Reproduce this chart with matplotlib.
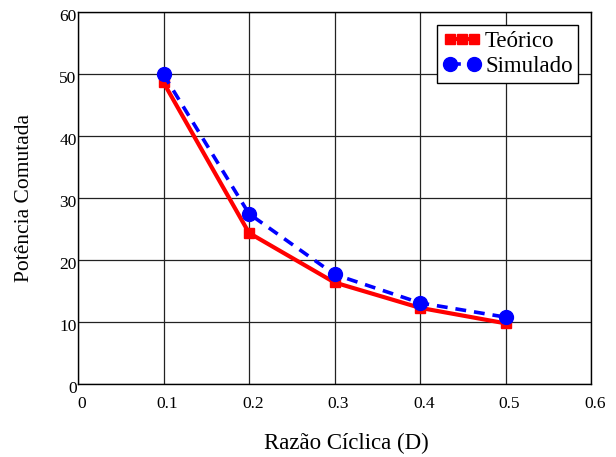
import numpy as np
import matplotlib
matplotlib.use('Agg')
import matplotlib.pyplot as plt
import matplotlib.transforms as mtransforms
from matplotlib.legend_handler import HandlerLine2D

plt.rcParams['font.family'] = ['Liberation Serif', 'DejaVu Serif']

# data
D = [0.1, 0.2, 0.3, 0.4, 0.5]
teorico = [48.7, 24.4, 16.4, 12.3, 9.8]
simulado = [50.0, 27.5, 17.7, 13.1, 10.8]
xticks = [0, 0.1, 0.2, 0.3, 0.4, 0.5, 0.6]
yticks = [0, 10, 20, 30, 40, 50, 60]

W, H = 616, 457
fig = plt.figure(figsize=(W / 100, H / 100), dpi=100)
ax = fig.add_axes([78 / W, (H - 384) / H, (591 - 78) / W, (384 - 12.5) / H])

l1, = ax.plot(D, teorico, color='#ff0000', lw=3, marker='s', ms=7,
              label='Teórico', zorder=3)
l2, = ax.plot(D, simulado, color='#0000ff', lw=2.6, ls=(0, (3, 2.2)), marker='o',
              ms=10, label='Simulado', zorder=4)

ax.set_xlim(0, 0.6)
ax.set_ylim(0, 60)
ax.set_xticks(xticks)
ax.set_yticks(yticks)
ax.set_xticklabels(['0', '0.1', '0.2', '0.3', '0.4', '0.5', '0.6'])
ax.tick_params(length=0, labelsize=12.5)
ax.tick_params(axis='x', pad=9)
ax.tick_params(axis='y', pad=1)
# labels sit slightly right / below their grid lines in the original
shift_x = mtransforms.ScaledTranslation(4 / 100, 0, fig.dpi_scale_trans)
shift_y = mtransforms.ScaledTranslation(0, -3 / 100, fig.dpi_scale_trans)
for lab in ax.get_xticklabels():
    lab.set_transform(lab.get_transform() + shift_x)
for lab in ax.get_yticklabels():
    lab.set_transform(lab.get_transform() + shift_y)

ax.grid(True, color='#222222', lw=0.9)
for s in ax.spines.values():
    s.set_linewidth(1.0)

ax.set_xlabel('Razão Cíclica (D)', fontsize=16.5)
ax.xaxis.set_label_coords(0.524, -0.132)
ax.set_ylabel('Potência Comutada', fontsize=15.5, labelpad=18)

leg = ax.legend(handles=[l1, l2], loc='upper right', fontsize=16.5,
                fancybox=False, framealpha=1, edgecolor='black',
                borderaxespad=0.55, handlelength=1.65, handletextpad=0.2,
                borderpad=0.25, labelspacing=0.2,
                handler_map={l1: HandlerLine2D(numpoints=3),
                             l2: HandlerLine2D(numpoints=2)})
leg.get_frame().set_linewidth(1.0)

fig.savefig('out.png', dpi=100)
